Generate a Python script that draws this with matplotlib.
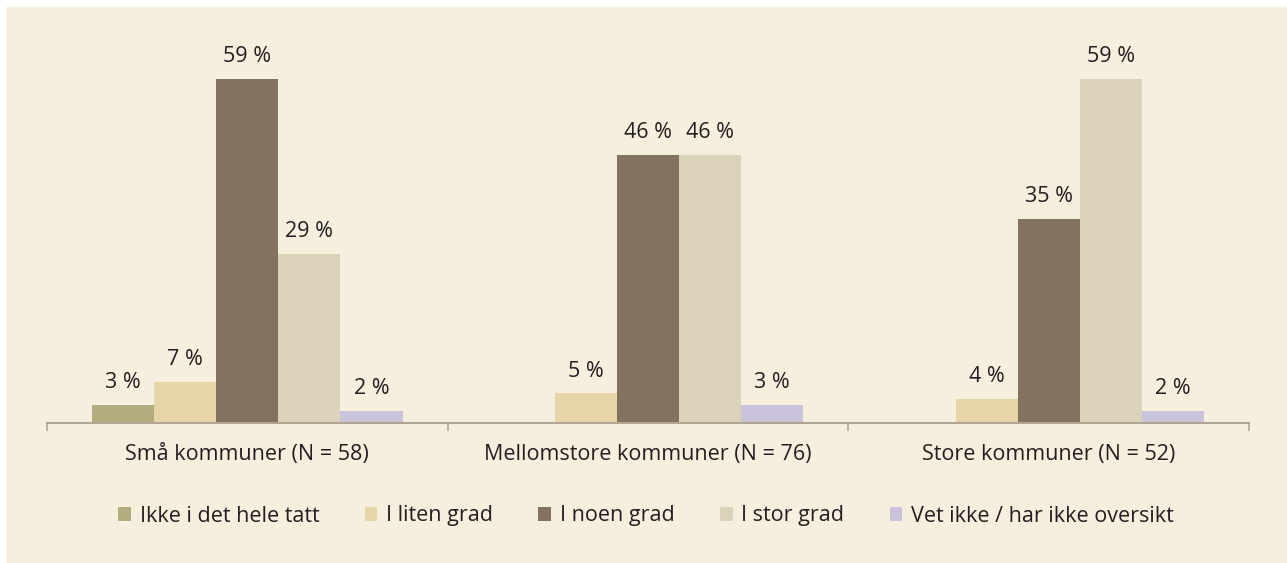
import numpy as np
import matplotlib.pyplot as plt
from matplotlib.patches import Rectangle

plt.rcParams['font.family'] = ['Open Sans', 'DejaVu Sans']

# ── data ──────────────────────────────────────────────────────────────────────
groups = ["Små kommuner (N = 58)", "Mellomstore kommuner (N = 76)", "Store kommuner (N = 52)"]
series = ["Ikke i det hele tatt", "I liten grad", "I noen grad", "I stor grad",
          "Vet ikke / har ikke oversikt"]
ikke_i_det_hele = [3, np.nan, np.nan]
liten_grad = [7, 5, 4]
noen_grad = [59, 46, 35]
stor_grad = [29, 46, 59]
vet_ikke = [2, 3, 2]
values = [ikke_i_det_hele, liten_grad, noen_grad, stor_grad, vet_ikke]
colors = ["#B3AC7E", "#E5D5A7", "#847261", "#DBD2BA", "#CBC3DC"]

bg = "#F6EFDD"
text_col = "#231F20"
axis_col = "#B3A594"
fs = 15.5

# ── figure ────────────────────────────────────────────────────────────────────
W, H = 1287, 563
fig = plt.figure(figsize=(W / 100, H / 100), dpi=100)
fig.patch.set_facecolor("white")
fig.patches.append(Rectangle((6 / W, 0), 1 - 6 / W, 1 - 7 / H, transform=fig.transFigure,
                             facecolor=bg, edgecolor="none", zorder=-10))

ax_left, ax_right, ax_bottom, ax_top = 47, 1249, 422.5, 30
ax = fig.add_axes([ax_left / W, 1 - ax_bottom / H, (ax_right - ax_left) / W,
                   (ax_bottom - ax_top) / H])
ax.set_facecolor("none")

px_per_pct = (422.5 - 79) / 59
ax.set_ylim(0, (ax_bottom - ax_top) / px_per_pct)
ax.set_xlim(-0.5, len(groups) - 0.5)

x = np.arange(len(groups))
w = 62 / 400
for i, (vals, name, c) in enumerate(zip(values, series, colors)):
    pos = x + (i - 2) * w
    bars = ax.bar(pos, vals, w, color=c, label=name, zorder=2)
    for xp, v in zip(pos, vals):
        if np.isnan(v):
            continue
        ax.annotate(f"{v:.0f} %", (xp, v), xytext=(0, 8.5), textcoords="offset points",
                    ha="center", va="bottom", fontsize=fs, color=text_col)

for s in ["top", "right", "left"]:
    ax.spines[s].set_visible(False)
ax.spines["bottom"].set_color(axis_col)
ax.spines["bottom"].set_linewidth(1.5)
ax.set_yticks([])
ax.set_xticks([-0.5, 0.5, 1.5, 2.5])
ax.set_xticklabels([])
ax.set_xticks(x, minor=True)
ax.set_xticklabels(groups, minor=True, fontsize=fs, color=text_col)
ax.tick_params(axis="x", which="major", length=6, width=1.2, color=axis_col)
ax.tick_params(axis="x", which="minor", length=0, pad=15.5)

fig.legend(loc="center", bbox_to_anchor=(646 / W, 1 - 516 / H), ncol=5, frameon=False,
           fontsize=fs, handlelength=0.6, handleheight=0.6, handletextpad=0.4,
           columnspacing=2.1, labelcolor=text_col)

fig.savefig("out.png", dpi=100, facecolor=fig.get_facecolor())
